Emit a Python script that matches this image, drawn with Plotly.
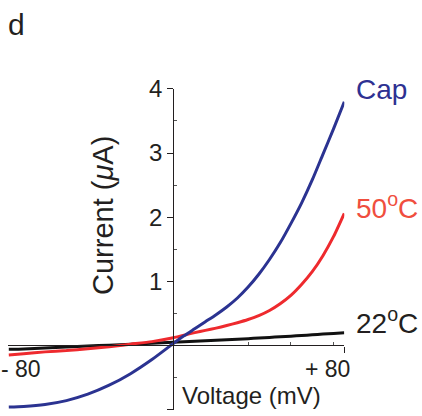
import plotly.graph_objects as go

# ---- data ----
voltage = [-77, -70, -60, -50, -40, -30, -20, -10, 0, 5, 10, 15, 20, 25, 30, 35, 40, 45, 50, 55, 60, 65, 70, 75, 80]
cap_current = [-0.96, -0.95, -0.92, -0.86, -0.76, -0.62, -0.44, -0.22, 0.03, 0.15, 0.26, 0.37, 0.48, 0.60,
               0.74, 0.91, 1.11, 1.34, 1.60, 1.90, 2.22, 2.58, 2.98, 3.38, 3.80]
hot_current = [-0.15, -0.13, -0.10, -0.08, -0.05, -0.02, 0.02, 0.06, 0.12, 0.16, 0.20, 0.235, 0.27, 0.31,
               0.355, 0.405, 0.465, 0.545, 0.65, 0.78, 0.95, 1.15, 1.40, 1.70, 2.06]
rt_current = [-0.06, -0.055, -0.04, -0.025, -0.01, 0.005, 0.02, 0.035, 0.05, 0.058, 0.065, 0.072, 0.08, 0.088,
              0.097, 0.106, 0.115, 0.125, 0.135, 0.145, 0.155, 0.166, 0.177, 0.188, 0.20]

series_names = ["Cap", "50<sup>o</sup>C", "22<sup>o</sup>C"]
series_colors = ["#2b3391", "#ee2a2e", "#111111"]
label_colors = ["#2e3192", "#f04e3e", "#231f20"]

y_ticks = [-1, 1, 2, 3, 4]
y_minor = [-0.5, 0.5, 1.5, 2.5, 3.5]
x_tick_vals = [-80, 80]
x_tick_text = ["- 80", "+ 80"]
x_minor = [35, 55, 75]

W, H = 422, 416
FONT = "Liberation Sans, Arial, Helvetica, sans-serif"
TXT = "#231f20"

fig = go.Figure()
for cur, col in zip([rt_current, hot_current, cap_current], [series_colors[2], series_colors[1], series_colors[0]]):
    fig.add_trace(go.Scatter(x=voltage, y=cur, mode="lines", cliponaxis=False,
                             line=dict(color=col, width=3, shape="spline", smoothing=0.6),
                             showlegend=False, hoverinfo="skip"))

x0_px, x80_px = 173.3, 344.3
px_per_mv = (x80_px - x0_px) / 80.0
xr_lo = -77.2
x_dom_lo = (x0_px + xr_lo * px_per_mv) / W
y0_px, y4_px = 343.0, 77.5
px_per_ua = (y0_px - y4_px) / 4.0

fig.update_layout(
    width=W, height=H, margin=dict(l=0, r=0, t=0, b=0),
    paper_bgcolor="white", plot_bgcolor="white",
    font=dict(family=FONT, color=TXT),
    xaxis=dict(domain=[x_dom_lo, x80_px / W], range=[xr_lo, 80], anchor="free",
               position=(H - y0_px) / H, showline=True, linecolor=TXT, linewidth=1.2,
               showgrid=False, zeroline=False, tickvals=[80], ticks="outside", ticklen=6,
               tickcolor=TXT, showticklabels=False,
               minor=dict(tickvals=x_minor, ticks="inside", ticklen=3, tickcolor="#555")),
    yaxis=dict(domain=[(H - (y0_px + px_per_ua)) / H, (H - y4_px) / H], range=[-1, 4],
               anchor="free", position=x0_px / W, showline=True, linecolor=TXT, linewidth=1.2,
               showgrid=False, zeroline=False, tickvals=y_ticks, ticks="outside", ticklen=6,
               tickcolor=TXT, tickfont=dict(size=24, color=TXT, family=FONT),
               minor=dict(tickvals=y_minor, ticks="inside", ticklen=3, tickcolor="#555")),
)

ann = []
# panel letter
ann.append(dict(text="d", x=6 / W, y=1 - 11 / H, xref="paper", yref="paper", xanchor="left",
                yanchor="middle", showarrow=False, font=dict(size=30, color=TXT, family=FONT)))
# series labels at the end of each curve
label_y_px = [78, 199, 318]
for name, col, ypx in zip(series_names, label_colors, label_y_px):
    ann.append(dict(text=name, x=354 / W, y=1 - ypx / H, xref="paper", yref="paper",
                    xanchor="left", yanchor="middle", showarrow=False,
                    font=dict(size=28, color=col, family=FONT)))
# x tick labels
x_lab_px = [21, 327]
for t, xp in zip(x_tick_text, x_lab_px):
    ann.append(dict(text=t, x=xp / W, y=1 - 367 / H, xref="paper", yref="paper",
                    xanchor="center", yanchor="middle", showarrow=False,
                    font=dict(size=23, color=TXT, family=FONT)))
# axis titles
ann.append(dict(text="Current (<i>μ</i>A)", x=103 / W, y=1 - 209 / H, xref="paper", yref="paper",
                xanchor="center", yanchor="middle", textangle=-90, showarrow=False,
                font=dict(size=29, color=TXT, family=FONT)))
ann.append(dict(text="Voltage (mV)", x=252 / W, y=1 - 395 / H, xref="paper", yref="paper",
                xanchor="center", yanchor="middle", showarrow=False,
                font=dict(size=24, color=TXT, family=FONT)))
fig.update_layout(annotations=ann)

fig.write_html("out.html")
